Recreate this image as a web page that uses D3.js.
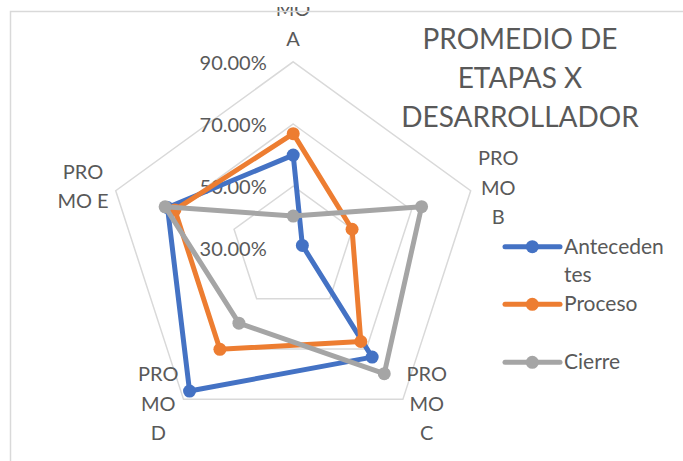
<!DOCTYPE html>
<html>
<head>
<meta charset="utf-8">
<script src="https://cdnjs.cloudflare.com/ajax/libs/d3/7.8.5/d3.min.js"></script>
<style>
  body { margin: 0; background: #fff; }
  svg { display: block; font-family: Lato, "Open Sans", sans-serif; }
</style>
</head>
<body>
<div id="chart"></div>
<script>
// data
var axes = ["A", "B", "C", "D", "E"];
var axisLabels = [["PRO", "MO", "A"], ["PRO", "MO", "B"], ["PRO", "MO", "C"], ["PRO", "MO", "D"], ["PRO", "MO E"]];
var seriesNames = ["Antecedentes", "Proceso", "Cierre"];
var antecedentes = [0.600, 0.331, 0.732, 0.867, 0.725];
var proceso = [0.669, 0.499, 0.670, 0.701, 0.700];
var cierre = [0.404, 0.734, 0.798, 0.597, 0.733];
var ticks = [0.3, 0.5, 0.7, 0.9];
var titleLines = ["PROMEDIO DE", "ETAPAS X", "DESARROLLADOR"];

var svgWidth = 683;
var svgHeight = 461;
var cx = 293.2, cy = 248.4, R = 186.6;
var colors = ["#4472C4", "#ED7D31", "#A5A5A5"];
var textColor = "#595959";

var svg = d3.select("#chart")
  .append("svg")
  .attr("width", svgWidth)
  .attr("height", svgHeight);

// the top of the picture is cropped in the original
svg.append("clipPath")
  .attr("id", "crop")
  .append("rect")
  .attr("x", 0).attr("y", 7)
  .attr("width", svgWidth).attr("height", svgHeight);

var r = d3.scaleLinear().domain([0.3, 0.9]).range([0, R]);
var angle = d3.scalePoint().domain(axes).range([0, 2 * Math.PI * 4 / 5]);

function pt(a, v) {
  var t = angle(a);
  return [cx + r(v) * Math.sin(t), cy - r(v) * Math.cos(t)];
}

var g = svg.append("g").attr("clip-path", "url(#crop)");

// grid pentagons
g.selectAll(".grid")
  .data(ticks.filter(d => d > 0.3))
  .enter()
  .append("polygon")
  .attr("points", d => axes.map(a => pt(a, d).join(",")).join(" "))
  .attr("fill", "none")
  .attr("stroke", "#d9d9d9")
  .attr("stroke-width", 1.5);

// tick labels
g.selectAll(".tick")
  .data(ticks)
  .enter()
  .append("text")
  .attr("x", cx - 26.5)
  .attr("y", d => cy - r(d) + 8)
  .attr("text-anchor", "end")
  .attr("font-size", 20)
  .attr("fill", textColor)
  .text(d => d3.format(".2%")(d));

// category labels
var labelPos = [
  { x: 293, y: 45.7 },
  { x: 498.3, y: 224 },
  { x: 426.7, y: 440 },
  { x: 158.3, y: 440 },
  { x: 83, y: 208 }
];
axisLabels.forEach(function(lines, i) {
  var p = labelPos[i];
  var n = lines.length;
  lines.forEach(function(l, j) {
    g.append("text")
      .attr("x", p.x)
      .attr("y", p.y - (n - 1 - j) * 29.5)
      .attr("text-anchor", "middle")
      .attr("font-size", 20)
      .attr("fill", textColor)
      .text(l);
  });
});

// series
var allSeries = [antecedentes, proceso, cierre];
var line = d3.line().curve(d3.curveLinearClosed);

allSeries.forEach(function(vals, i) {
  var pts = vals.map((v, k) => pt(axes[k], v));
  g.append("path")
    .attr("d", line(pts))
    .attr("fill", "none")
    .attr("stroke", colors[i])
    .attr("stroke-width", 5)
    .attr("stroke-linejoin", "round");
  g.selectAll(".m" + i)
    .data(pts)
    .enter()
    .append("circle")
    .attr("cx", d => d[0])
    .attr("cy", d => d[1])
    .attr("r", 6.5)
    .attr("fill", colors[i]);
});

// title
svg.selectAll(".title")
  .data(titleLines)
  .enter()
  .append("text")
  .attr("x", 520)
  .attr("y", (d, i) => 49 + i * 38.8)
  .attr("text-anchor", "middle")
  .attr("font-size", 28)
  .attr("fill", textColor)
  .text(d => d);

// legend
var legendY = [246.7, 304.3, 362.3];
var legendText = [["Anteceden", "tes"], ["Proceso"], ["Cierre"]];
seriesNames.forEach(function(name, i) {
  var lg = svg.append("g");
  lg.append("line")
    .attr("x1", 505).attr("x2", 560)
    .attr("y1", legendY[i]).attr("y2", legendY[i])
    .attr("stroke", colors[i])
    .attr("stroke-width", 5)
    .attr("stroke-linecap", "round");
  lg.append("circle")
    .attr("cx", 532.3).attr("cy", legendY[i])
    .attr("r", 6.5)
    .attr("fill", colors[i]);
  legendText[i].forEach(function(t, j) {
    lg.append("text")
      .attr("x", 564)
      .attr("y", legendY[i] + 7 + j * 28.4)
      .attr("font-size", 21)
      .attr("fill", textColor)
      .text(t);
  });
});

// chart frame, drawn last so it sits over the cropped label
svg.append("rect")
  .attr("x", 10.5).attr("y", 11.5)
  .attr("width", 800).attr("height", 600)
  .attr("fill", "none")
  .attr("stroke", "#d9d9d9")
  .attr("stroke-width", 1.5);
</script>
</body>
</html>
